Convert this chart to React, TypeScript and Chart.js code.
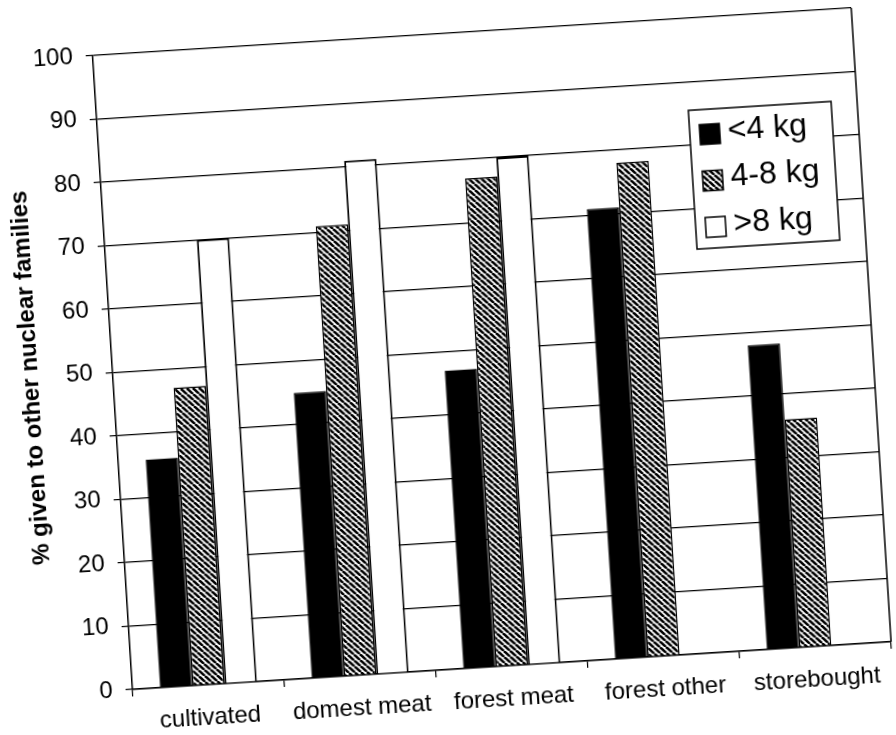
import React, { useEffect, useRef } from "react";
import { Chart, registerables } from "chart.js";

Chart.register(...registerables);

const categories = ["cultivated", "domest meat", "forest meat", "forest other", "storebought"];
const seriesLabels = ["<4 kg", "4-8 kg", ">8 kg"];
const under4kg = [36, 45, 47, 71, 48];
const from4to8kg = [47, 71, 77, 78, 36];
const over8kg: (number | null)[] = [70, 81, 80, null, null];
const yMin = 0;
const yMax = 100;
const yStep = 10;
const yTitle = "% given to other nuclear families";

const FONT = "'Liberation Sans', Arial, Helvetica, sans-serif";

function makeHatch(): CanvasPattern | string {
  const p = 6;
  const c = document.createElement("canvas");
  c.width = p;
  c.height = p;
  const g = c.getContext("2d");
  if (!g) return "#777";
  g.fillStyle = "#ffffff";
  g.fillRect(0, 0, p, p);
  g.strokeStyle = "#000000";
  g.lineWidth = 2.6;
  for (const k of [-1, 0, 1]) {
    g.beginPath();
    g.moveTo(k * p, 0);
    g.lineTo(k * p + p, p);
    g.stroke();
  }
  return g.createPattern(c, "repeat") || "#777";
}

const frameAndLegend = {
  id: "frameAndLegend",
  afterDatasetsDraw(chart: any) {
    const { ctx, chartArea } = chart;
    ctx.save();
    ctx.strokeStyle = "#000";
    ctx.lineWidth = 1.5;
    ctx.beginPath();
    ctx.moveTo(chartArea.right, chartArea.top);
    ctx.lineTo(chartArea.right, chartArea.bottom);
    ctx.stroke();
    ctx.restore();
  },
  afterDraw(chart: any) {
    const { ctx, chartArea } = chart;
    const x = chartArea.right - 169;
    const y = chartArea.top + 92;
    const w = 143;
    const h = 139;
    ctx.save();
    ctx.fillStyle = "#fff";
    ctx.fillRect(x, y, w, h);
    ctx.strokeStyle = "#000";
    ctx.lineWidth = 1.5;
    ctx.strokeRect(x, y, w, h);
    const rows = [25, 71.5, 118];
    chart.data.datasets.forEach((ds: any, i: number) => {
      const cy = y + rows[i];
      const s = 20;
      const mx = x + 10;
      ctx.fillStyle = ds.backgroundColor;
      ctx.fillRect(mx, cy - s / 2, s, s);
      ctx.lineWidth = 1.5;
      ctx.strokeStyle = "#000";
      ctx.strokeRect(mx, cy - s / 2, s, s);
      ctx.fillStyle = "#000";
      ctx.font = `32px ${FONT}`;
      ctx.textAlign = "left";
      ctx.textBaseline = "middle";
      ctx.fillText(ds.label, x + 38, cy - 2);
    });
    ctx.restore();
  },
};

export default function App() {
  const ref = useRef<HTMLCanvasElement | null>(null);

  useEffect(() => {
    if (!ref.current) return;
    const hatch = makeHatch();
    const chart = new Chart(ref.current, {
      type: "bar",
      data: {
        labels: categories,
        datasets: [
          {
            label: seriesLabels[0],
            data: under4kg,
            backgroundColor: "#000000",
            borderColor: "#000000",
            borderWidth: 1.5,
          },
          {
            label: seriesLabels[1],
            data: from4to8kg,
            backgroundColor: hatch as any,
            borderColor: "#000000",
            borderWidth: 1.5,
          },
          {
            label: seriesLabels[2],
            data: over8kg,
            backgroundColor: "#ffffff",
            borderColor: "#000000",
            borderWidth: 2,
          },
        ],
      },
      options: {
        responsive: false,
        animation: false,
        layout: { padding: { left: 0, top: 34, right: 23, bottom: 0 } },
        datasets: {
          bar: { categoryPercentage: 0.64, barPercentage: 1.0 },
        },
        plugins: {
          legend: { display: false },
          tooltip: { enabled: false },
          title: { display: false },
        },
        scales: {
          x: {
            afterFit: (s: any) => {
              s.height = 66;
            },
            grid: {
              display: true,
              drawOnChartArea: false,
              drawTicks: true,
              tickLength: 7,
              color: "#000",
              lineWidth: 1.2,
            },
            border: { display: true, color: "#000", width: 1.5 },
            ticks: {
              color: "#000",
              padding: 12,
              maxRotation: 0,
              autoSkip: false,
              font: { family: FONT, size: 24 },
            },
          },
          y: {
            min: yMin,
            max: yMax,
            afterFit: (s: any) => {
              s.width = 113;
            },
            grid: {
              color: "#000",
              lineWidth: 1.2,
              drawTicks: true,
              tickLength: 7,
            },
            border: { display: true, color: "#000", width: 1.5 },
            ticks: {
              stepSize: yStep,
              color: "#000",
              padding: 13,
              font: { family: FONT, size: 24 },
            },
            title: {
              display: true,
              text: yTitle,
              color: "#000",
              padding: { top: 17, bottom: 0 },
              font: { family: FONT, size: 24, weight: "bold" },
            },
          },
        },
      },
      plugins: [frameAndLegend],
    });
    return () => chart.destroy();
  }, []);

  return (
    <div
      style={{
        position: "fixed",
        left: 0,
        top: 0,
        width: 896,
        height: 735,
        transform: "rotate(-3.6deg)",
        transformOrigin: "448px 367.5px",
      }}
    >
      <canvas ref={ref} width={896} height={735} style={{ width: 896, height: 735, display: "block" }} />
    </div>
  );
}
